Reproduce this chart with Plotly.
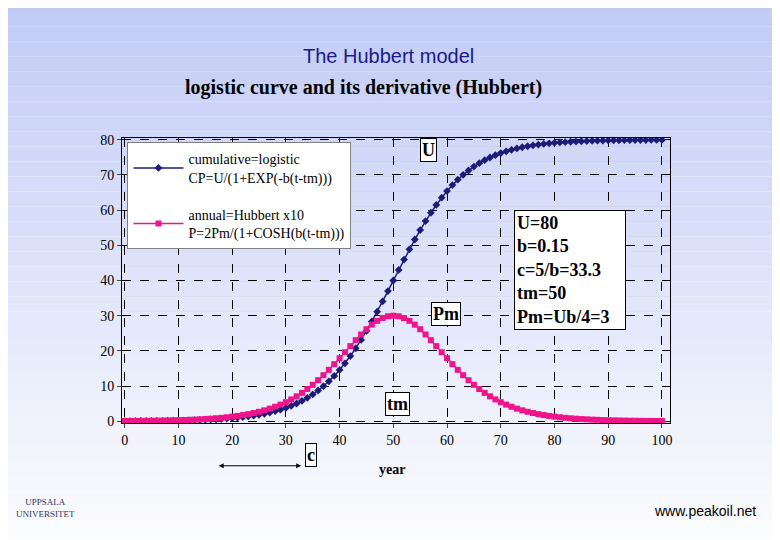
import plotly.graph_objects as go

years = list(range(0, 101))

cumulative = [0.04, 0.05, 0.06, 0.07, 0.08, 0.09, 0.11, 0.13, 0.15, 0.17, 0.20, 0.23, 0.27, 0.31, 0.36, 0.42, 0.49,
              0.56, 0.65, 0.76, 0.88, 1.02, 1.18, 1.37, 1.59, 1.84, 2.13, 2.46, 2.85, 3.29, 3.79, 4.37, 5.04, 5.79,
              6.65, 7.63, 8.73, 9.96, 11.35, 12.89, 14.59, 16.47, 18.52, 20.74, 23.12, 25.67, 28.35, 31.15, 34.04,
              37.00, 40.00,
              43.00, 45.96, 48.85, 51.65, 54.33, 56.88, 59.26, 61.48, 63.53, 65.41, 67.11, 68.65, 70.04, 71.27,
              72.37, 73.35, 74.21, 74.96, 75.63, 76.21, 76.71, 77.15, 77.54, 77.87, 78.16, 78.41, 78.63, 78.82,
              78.98, 79.12, 79.24, 79.35, 79.44, 79.51, 79.58, 79.64, 79.69, 79.73, 79.77, 79.80, 79.83, 79.85,
              79.87, 79.89, 79.91, 79.92, 79.93, 79.94, 79.95, 79.96]

annual_x10 = [0.07, 0.08, 0.09, 0.10, 0.12, 0.14, 0.16, 0.19, 0.22, 0.26, 0.30, 0.34, 0.40, 0.46, 0.54, 0.62, 0.72,
              0.84, 0.97, 1.13, 1.31, 1.51, 1.75, 2.02, 2.33, 2.69, 3.11, 3.58, 4.12, 4.73, 5.42, 6.20, 7.08, 8.06,
              9.15, 10.35, 11.66, 13.08, 14.61, 16.22, 17.90, 19.62, 21.35, 23.04, 24.66, 26.15, 27.45, 28.53,
              29.33, 29.83, 30.00,
              29.83, 29.33, 28.53, 27.45, 26.15, 24.66, 23.04, 21.35, 19.62, 17.90, 16.22, 14.61, 13.08, 11.66,
              10.35, 9.15, 8.06, 7.08, 6.20, 5.42, 4.73, 4.12, 3.58, 3.11, 2.69, 2.33, 2.02, 1.75, 1.51, 1.31, 1.13,
              0.97, 0.84, 0.72, 0.62, 0.54, 0.46, 0.40, 0.34, 0.30, 0.26, 0.22, 0.19, 0.16, 0.14, 0.12, 0.10, 0.09,
              0.08, 0.07]

x_ticks = list(range(0, 101, 10))
y_ticks = list(range(0, 81, 10))

serif = "Liberation Serif"
navy = "#1c1c78"
pink = "#f0148c"

fig = go.Figure()
fig.add_trace(go.Scatter(
    x=years, y=cumulative, mode="lines+markers", legendgroup="cp",
    name="cumulative=logistic<br>CP=U/(1+EXP(-b(t-tm)))",
    line=dict(color=navy, width=1.5),
    marker=dict(symbol="diamond", size=6, color=navy)))
fig.add_trace(go.Scatter(
    x=years, y=annual_x10, mode="lines+markers", legendgroup="p",
    name="annual=Hubbert x10<br>P=2Pm/(1+COSH(b(t-tm)))",
    line=dict(color=pink, width=1.5),
    marker=dict(symbol="square", size=6, color=pink)))

# slide background gradient
n = 40
top, bottom = 1.6, -0.5
for i in range(n):
    f = i / (n - 1)
    r = int(190 + 65 * f); g = int(200 + 55 * f); b = int(245 + 10 * f)
    fig.add_shape(type="rect", xref="paper", yref="paper", layer="below",
                  x0=-0.4, x1=1.4, y0=top - (i + 1) * (top - bottom) / n, y1=top - i * (top - bottom) / n,
                  fillcolor=f"rgb({r},{g},{b})", line=dict(width=0))

boxed = dict(font=dict(family=serif, size=18, color="black"), bgcolor="white",
             bordercolor="black", borderwidth=1, showarrow=False)
fig.add_annotation(x=56.5, y=1.0, yref="paper", text="<b>U</b>", **boxed)
fig.add_annotation(x=59.8, y=30.5, text="<b>Pm</b>", **boxed)
fig.add_annotation(x=50.7, y=4.8, text="<b>tm</b>", **boxed)
fig.add_annotation(x=72.5, y=60, yanchor="top", xanchor="left", align="left",
                   text="<b>U=80<br>b=0.15<br>c=5/b=33.3<br>tm=50<br>Pm=Ub/4=3</b>&nbsp;&nbsp;&nbsp;",
                   borderpad=2, **boxed)
fig.add_annotation(x=34.6, y=-0.155, yref="paper", text="<b>c</b>", **boxed)
fig.add_annotation(x=49.8, y=-0.195, yref="paper", text="<b>year</b>", showarrow=False,
                   font=dict(family=serif, size=14, color="black"))
fig.add_annotation(x=17.5, y=-0.15, xref="x", yref="paper", ax=84, ay=0, axref="pixel", ayref="pixel",
                   text="", showarrow=True, arrowhead=2, arrowside="end+start", arrowwidth=1,
                   arrowcolor="black")

fig.add_annotation(xref="paper", yref="paper", x=0.487, y=1.335, xanchor="center",
                   text="The Hubbert model", showarrow=False,
                   font=dict(family="Liberation Sans", size=20, color="#1a1a8c"))
fig.add_annotation(xref="paper", yref="paper", x=0.44, y=1.225, xanchor="center",
                   text="<b>logistic curve and its derivative (Hubbert)</b>", showarrow=False,
                   font=dict(family=serif, size=20, color="black"))
fig.add_annotation(xref="paper", yref="paper", x=1.16, y=-0.345, xanchor="right",
                   text="www.peakoil.net", showarrow=False,
                   font=dict(family="Liberation Sans", size=14, color="black"))
fig.add_annotation(xref="paper", yref="paper", x=-0.14, y=-0.345, xanchor="center",
                   text="UPPSALA<br>UNIVERSITET", showarrow=False,
                   font=dict(family=serif, size=9, color="#333366"))

fig.update_layout(
    width=780, height=540,
    margin=dict(l=114, r=118, t=130, b=125),
    paper_bgcolor="white", plot_bgcolor="#c0c0c0",
    showlegend=True,
    legend=dict(x=0.01, y=0.985, xanchor="left", yanchor="top", bgcolor="white",
                bordercolor="#808080", borderwidth=1, tracegroupgap=16, itemwidth=50,
                font=dict(family=serif, size=14, color="black")),
    xaxis=dict(range=[-0.5, 101.5], tickvals=x_ticks, showgrid=True, gridcolor="black",
               griddash="dash", gridwidth=1, zeroline=False, showline=True, linecolor="black",
               mirror=True, ticks="outside", ticklen=4,
               tickfont=dict(family=serif, size=14, color="black")),
    yaxis=dict(range=[-0.5, 80.5], tickvals=y_ticks, showgrid=True, gridcolor="black",
               griddash="dash", gridwidth=1, zeroline=False, showline=True, linecolor="black",
               mirror=True, ticks="outside", ticklen=4,
               tickfont=dict(family=serif, size=14, color="black")),
)

fig.write_html("out.html")
